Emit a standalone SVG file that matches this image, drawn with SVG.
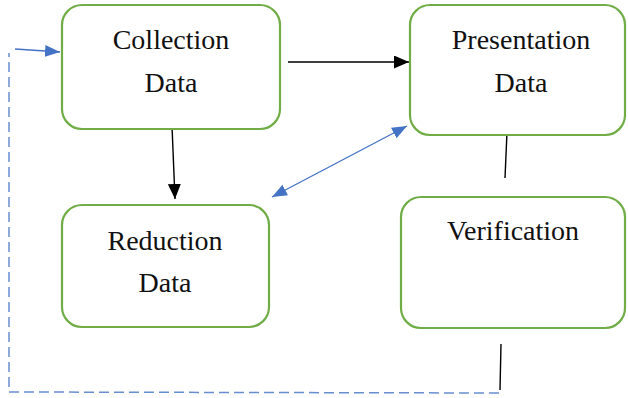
<svg xmlns="http://www.w3.org/2000/svg" width="628" height="398" viewBox="0 0 628 398">
<style>
.box{fill:#fff;stroke:#70AD47;stroke-width:2.2}
.t{font-family:"Liberation Serif","Times New Roman",serif;font-size:28px;fill:#111;text-anchor:middle}
.k{stroke:#000;stroke-width:1.4;fill:none}
.b{stroke:#4472C4;stroke-width:1.3;fill:none}
.d{stroke:#4472C4;stroke-width:1.5;fill:none;stroke-dasharray:10 5;opacity:0.8}
</style>
<defs>
<marker id="ak" viewBox="0 0 10 10" refX="10" refY="5" markerWidth="15" markerHeight="13" markerUnits="userSpaceOnUse" orient="auto" preserveAspectRatio="none"><path d="M0,0 L10,5 L0,10 z" fill="#000"/></marker>
<marker id="ab" viewBox="0 0 10 10" refX="10" refY="5" markerWidth="15" markerHeight="12" markerUnits="userSpaceOnUse" orient="auto-start-reverse" preserveAspectRatio="none"><path d="M0,0 L10,5 L0,10 z" fill="#4472C4"/></marker>
</defs>
<rect width="628" height="398" fill="#fff"/>
<g id="connectors">
<line class="k" x1="288" y1="62" x2="409" y2="62" marker-end="url(#ak)"/>
<line class="k" x1="172" y1="126" x2="175" y2="199" marker-end="url(#ak)"/>
<line class="b" x1="272" y1="197" x2="407" y2="126" marker-start="url(#ab)" marker-end="url(#ab)"/>
<line class="k" x1="507" y1="132" x2="505" y2="178" stroke-width="1.2"/>
<line class="k" x1="501" y1="344" x2="500" y2="390" stroke-width="1.2"/>
<polyline class="d" points="499,393 9,392 9,53"/>
<line class="b" x1="15" y1="49" x2="60" y2="52" marker-end="url(#ab)"/>
</g>
<g id="collection">
<rect class="box" x="62" y="5" width="218" height="124" rx="20"/>
<text class="t" x="171" y="49">Collection</text>
<text class="t" x="171" y="92">Data</text>
</g>
<g id="presentation">
<rect class="box" x="410" y="5" width="215" height="130" rx="20"/>
<text class="t" x="521" y="49">Presentation</text>
<text class="t" x="521" y="92">Data</text>
</g>
<g id="reduction">
<rect class="box" x="62" y="205" width="207" height="122" rx="20"/>
<text class="t" x="165" y="250">Reduction</text>
<text class="t" x="165" y="292">Data</text>
</g>
<g id="verification">
<rect class="box" x="401" y="197" width="224" height="131" rx="20"/>
<text class="t" x="513" y="240">Verification</text>
</g>
</svg>
